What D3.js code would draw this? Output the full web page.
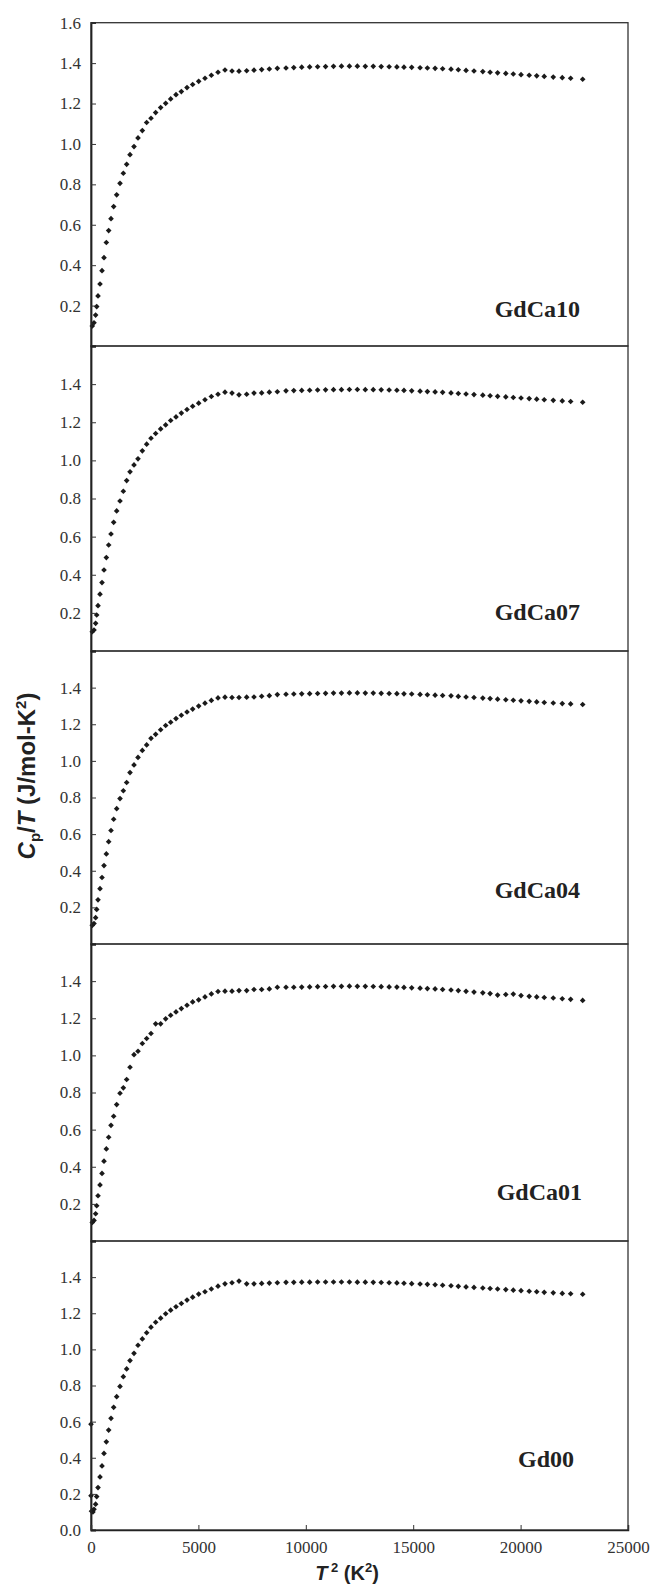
<!DOCTYPE html>
<html>
<head>
<meta charset="utf-8">
<script src="https://cdn.jsdelivr.net/npm/d3@7"></script>
<style>
  body { margin: 0; background: #fff; }
  svg { display: block; }
</style>
</head>
<body>
<div id="chart"></div>
<script>
// T^2 (K^2) of the measured points, same sweep for every sample
var t2 = [60, 140, 215, 265, 326, 419, 512, 605, 714, 822, 931, 1055, 1195, 1350, 1505, 1660,
  1816, 2002, 2188, 2390, 2591, 2793, 3010, 3243, 3476, 3709, 3957, 4206, 4469, 4733, 5013,
  5307, 5603, 5913, 6238, 6564, 6890, 7247, 7588, 7945, 8302, 8675, 9078, 9440, 9810, 10180,
  10550, 10920, 11290, 11660, 12030, 12400, 12770, 13140, 13510, 13880, 14240, 14570, 14930,
  15320, 15660, 16020, 16370, 16760, 17100, 17460, 17830, 18240, 18580, 18930, 19310, 19660,
  20020, 20400, 20750, 21100, 21520, 21940, 22330, 22890];

// Cp/T (J/mol-K^2) for each sample
var gdca10 = [0.099, 0.115, 0.153, 0.195, 0.248, 0.307, 0.373, 0.437, 0.512, 0.571, 0.630, 0.690,
  0.748, 0.805, 0.855, 0.899, 0.947, 0.987, 1.030, 1.066, 1.106, 1.127, 1.155, 1.180, 1.201,
  1.223, 1.244, 1.259, 1.279, 1.294, 1.310, 1.325, 1.340, 1.355, 1.366, 1.361, 1.360, 1.362,
  1.365, 1.368, 1.371, 1.374, 1.376, 1.378, 1.380, 1.381, 1.382, 1.383, 1.384, 1.385, 1.385,
  1.385, 1.384, 1.384, 1.383, 1.382, 1.381, 1.380, 1.379, 1.377, 1.376, 1.374, 1.372, 1.370,
  1.367, 1.364, 1.361, 1.358, 1.355, 1.352, 1.349, 1.346, 1.343, 1.340, 1.337, 1.334, 1.331,
  1.328, 1.325, 1.320];

var gdca07 = [0.101, 0.110, 0.145, 0.189, 0.238, 0.298, 0.359, 0.425, 0.490, 0.556, 0.614, 0.675,
  0.735, 0.787, 0.838, 0.894, 0.940, 0.976, 1.008, 1.050, 1.085, 1.116, 1.141, 1.165, 1.186,
  1.209, 1.228, 1.248, 1.267, 1.284, 1.300, 1.318, 1.335, 1.347, 1.358, 1.353, 1.344, 1.347,
  1.353, 1.354, 1.358, 1.360, 1.365, 1.366, 1.367, 1.368, 1.369, 1.370, 1.371, 1.371, 1.372,
  1.372, 1.371, 1.371, 1.370, 1.369, 1.368, 1.367, 1.365, 1.363, 1.361, 1.359, 1.357, 1.354,
  1.351, 1.348, 1.345, 1.342, 1.339, 1.336, 1.333, 1.330, 1.327, 1.324, 1.321, 1.318, 1.315,
  1.312, 1.309, 1.305];

var gdca04 = [0.102, 0.112, 0.144, 0.189, 0.241, 0.302, 0.363, 0.428, 0.492, 0.559, 0.620, 0.681,
  0.739, 0.794, 0.837, 0.882, 0.936, 0.978, 1.019, 1.057, 1.087, 1.123, 1.145, 1.170, 1.193,
  1.211, 1.231, 1.249, 1.267, 1.283, 1.299, 1.315, 1.330, 1.344, 1.348, 1.346, 1.346, 1.348,
  1.349, 1.353, 1.356, 1.362, 1.364, 1.365, 1.366, 1.367, 1.368, 1.369, 1.370, 1.370, 1.371,
  1.371, 1.370, 1.370, 1.369, 1.368, 1.367, 1.366, 1.365, 1.363, 1.361, 1.359, 1.357, 1.355,
  1.352, 1.349, 1.346, 1.343, 1.340, 1.337, 1.334, 1.331, 1.328, 1.325, 1.322, 1.319, 1.316,
  1.313, 1.311, 1.308];

var gdca01 = [0.100, 0.111, 0.147, 0.190, 0.244, 0.302, 0.364, 0.430, 0.496, 0.559, 0.623, 0.672,
  0.735, 0.796, 0.825, 0.870, 0.936, 1.004, 1.022, 1.064, 1.091, 1.118, 1.170, 1.170, 1.197,
  1.216, 1.234, 1.252, 1.270, 1.288, 1.299, 1.315, 1.331, 1.344, 1.346, 1.346, 1.349, 1.349,
  1.355, 1.355, 1.358, 1.367, 1.367, 1.367, 1.368, 1.369, 1.370, 1.371, 1.372, 1.372, 1.373,
  1.372, 1.372, 1.371, 1.370, 1.369, 1.368, 1.366, 1.364, 1.362, 1.360, 1.358, 1.355, 1.352,
  1.349, 1.345, 1.341, 1.337, 1.333, 1.325, 1.328, 1.330, 1.322, 1.318, 1.315, 1.312, 1.309,
  1.305, 1.302, 1.296];

var gd00 = [0.107, 0.115, 0.143, 0.185, 0.235, 0.294, 0.355, 0.424, 0.488, 0.553, 0.618, 0.679,
  0.738, 0.795, 0.849, 0.892, 0.938, 0.978, 1.023, 1.058, 1.092, 1.123, 1.150, 1.173, 1.197,
  1.217, 1.236, 1.254, 1.273, 1.289, 1.306, 1.319, 1.334, 1.350, 1.363, 1.369, 1.378, 1.363,
  1.363, 1.365, 1.367, 1.369, 1.371, 1.371, 1.372, 1.372, 1.373, 1.373, 1.373, 1.373, 1.373,
  1.372, 1.372, 1.371, 1.370, 1.369, 1.368, 1.366, 1.364, 1.362, 1.360, 1.358, 1.355, 1.352,
  1.349, 1.346, 1.343, 1.340, 1.337, 1.334, 1.331, 1.328, 1.325, 1.322, 1.319, 1.316, 1.313,
  1.310, 1.308, 1.305];

// the few extra low-T points of Gd00
var gd00ExtraT2 = [0, 0, 25, 90];
var gd00ExtraCp = [0.586, 0.190, 0.104, 0.100];

var sampleNames = ["GdCa10", "GdCa07", "GdCa04", "GdCa01", "Gd00"];
var xTicks = [0, 5000, 10000, 15000, 20000, 25000];

// layout of the stacked panels (pixel positions)
var layout = [
  { top: 22.7, bottom: 346, ticks: [0.2, 0.4, 0.6, 0.8, 1.0, 1.2, 1.4, 1.6], labelX: 580, labelY: 317 },
  { top: 346, bottom: 651, ticks: [0.2, 0.4, 0.6, 0.8, 1.0, 1.2, 1.4], labelX: 580, labelY: 620 },
  { top: 651, bottom: 944, ticks: [0.2, 0.4, 0.6, 0.8, 1.0, 1.2, 1.4], labelX: 580, labelY: 898 },
  { top: 944, bottom: 1241, ticks: [0.2, 0.4, 0.6, 0.8, 1.0, 1.2, 1.4], labelX: 582, labelY: 1200 },
  { top: 1241, bottom: 1530, ticks: [0.0, 0.2, 0.4, 0.6, 0.8, 1.0, 1.2, 1.4], labelX: 574, labelY: 1467 }
];

var series = [gdca10, gdca07, gdca04, gdca01, gd00];

var W = 652, H = 1585;
var left = 91, right = 628;

var svg = d3.select("#chart").append("svg").attr("width", W).attr("height", H);

var x = d3.scaleLinear().domain([0, 25000]).range([left, right]);

var diamond = d3.symbol().type(d3.symbolSquare).size(16);

layout.forEach(function(p, i) {
  var y = d3.scaleLinear().domain([0, 1.6]).range([p.bottom, p.top]);
  var g = svg.append("g");

  var pts = t2.map(function(t, k) { return [t, series[i][k]]; });
  if (i == 4) {
    gd00ExtraT2.forEach(function(t, k) { pts.push([t, gd00ExtraCp[k]]); });
  }

  g.selectAll("path.pt").data(pts).enter().append("path")
    .attr("class", "pt")
    .attr("d", diamond)
    .attr("transform", function(d) { return "translate(" + x(d[0]) + "," + y(d[1]) + ") rotate(45)"; })
    .attr("fill", "#1a1a1a");

  // frame
  g.append("rect")
    .attr("x", left).attr("y", p.top)
    .attr("width", right - left).attr("height", p.bottom - p.top)
    .attr("fill", "none").attr("stroke", "#333").attr("stroke-width", 1.3);

  // y axis, ticks inside
  var yAxis = d3.axisLeft(y).tickValues(p.ticks).tickSize(-5).tickPadding(10)
    .tickFormat(d3.format(".1f"));
  var ya = g.append("g").attr("transform", "translate(" + left + ",0)").call(yAxis);
  ya.select(".domain").attr("stroke", "#222").attr("stroke-width", 1.8);
  ya.selectAll(".tick line").attr("stroke", "#333");
  ya.selectAll(".tick text")
    .attr("font-family", "'Liberation Serif', 'Times New Roman', serif")
    .attr("font-size", 17).attr("fill", "#333");

  g.append("text")
    .attr("x", p.labelX).attr("y", p.labelY)
    .attr("text-anchor", "end")
    .attr("font-family", "'Liberation Serif', 'Times New Roman', serif")
    .attr("font-weight", "bold").attr("font-size", 24).attr("fill", "#222")
    .text(sampleNames[i]);
});

// x axis on the bottom panel
var xAxis = d3.axisBottom(x).tickValues(xTicks).tickSize(-5).tickPadding(11).tickFormat(d3.format("d"));
var xa = svg.append("g").attr("transform", "translate(0,1530)").call(xAxis);
xa.select(".domain").attr("stroke", "#222").attr("stroke-width", 1.5);
xa.selectAll(".tick line").attr("stroke", "#333");
xa.selectAll(".tick text")
  .attr("font-family", "'Liberation Serif', 'Times New Roman', serif")
  .attr("font-size", 17).attr("fill", "#333");

// axis titles
var xt = svg.append("text")
  .attr("x", 347).attr("y", 1580)
  .attr("text-anchor", "middle")
  .attr("font-family", "'Liberation Sans', Arial, sans-serif")
  .attr("font-weight", "bold").attr("font-size", 20).attr("fill", "#222");
xt.append("tspan").attr("font-style", "italic").text("T");
xt.append("tspan").attr("dy", -8).attr("font-size", 13).text(" 2");
xt.append("tspan").attr("dy", 8).text(" (K");
xt.append("tspan").attr("dy", -8).attr("font-size", 13).text("2");
xt.append("tspan").attr("dy", 8).text(")");

var yt = svg.append("text")
  .attr("transform", "translate(35,776) rotate(-90)")
  .attr("text-anchor", "middle")
  .attr("font-family", "'Liberation Sans', Arial, sans-serif")
  .attr("font-weight", "bold").attr("font-size", 24).attr("fill", "#222");
yt.append("tspan").attr("font-style", "italic").text("C");
yt.append("tspan").attr("dy", 5).attr("font-size", 15).text("p");
yt.append("tspan").attr("dy", -5).text("/");
yt.append("tspan").attr("font-style", "italic").text("T");
yt.append("tspan").text(" (J/mol-K");
yt.append("tspan").attr("dy", -9).attr("font-size", 15).text("2");
yt.append("tspan").attr("dy", 9).text(")");
</script>
</body>
</html>
